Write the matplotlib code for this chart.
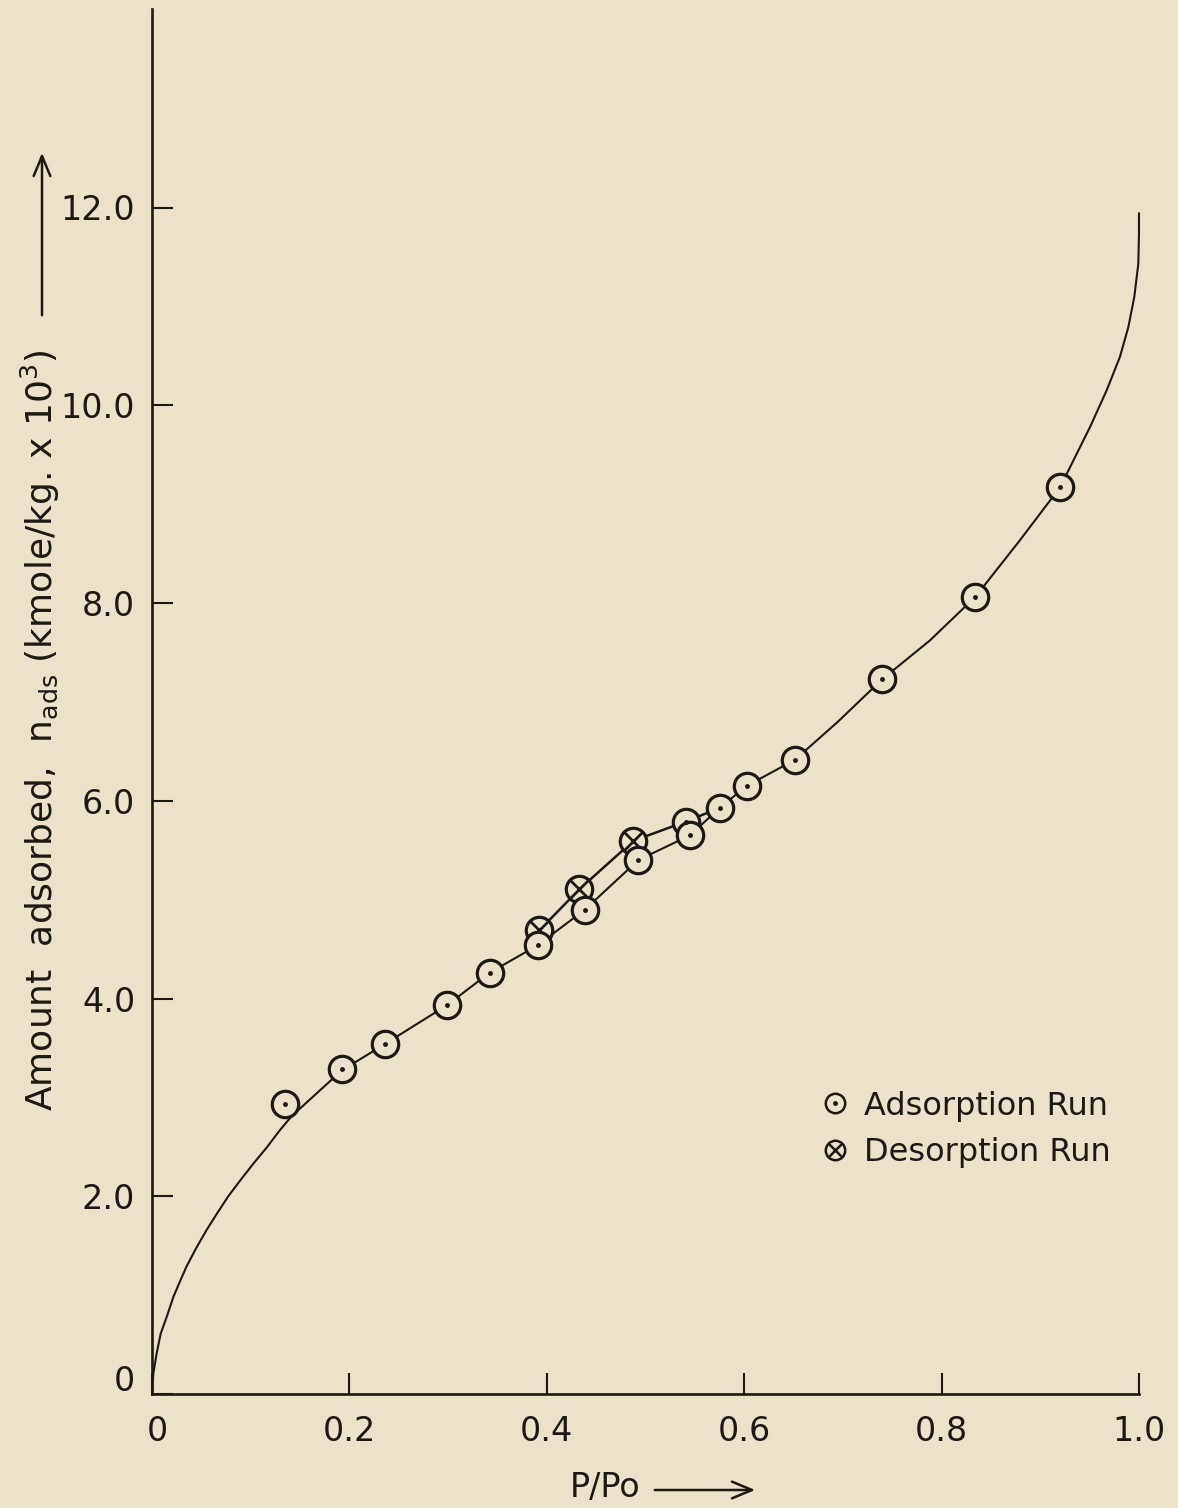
import numpy as np
import matplotlib
matplotlib.use("Agg")
import matplotlib.pyplot as plt
from matplotlib.lines import Line2D
from matplotlib.transforms import ScaledTranslation

# smooth isotherm drawn through the points
curve_x = [0.0, 0.0014, 0.0047, 0.0088, 0.0149, 0.0216, 0.0284, 0.035, 0.045, 0.0554,
           0.0655, 0.0773, 0.089, 0.1027, 0.116, 0.1297, 0.1415, 0.192, 0.236, 0.2985,
           0.342, 0.391, 0.4387, 0.4927, 0.545, 0.5755, 0.6025, 0.6515, 0.695, 0.740,
           0.788, 0.834, 0.879, 0.920, 0.9504, 0.9672, 0.9807, 0.9892, 0.9953, 0.9993,
           1.0, 1.0]
curve_y = [0.0, 0.21, 0.41, 0.61, 0.78, 0.98, 1.14, 1.29, 1.48, 1.66,
           1.82, 2.0, 2.155, 2.33, 2.49, 2.67, 2.81, 3.27, 3.54, 3.93,
           4.26, 4.54, 4.90, 5.40, 5.65, 5.93, 6.15, 6.415, 6.80, 7.23,
           7.62, 8.06, 8.63, 9.17, 9.78, 10.15, 10.49, 10.79, 11.10, 11.43,
           11.74, 11.94]

# upper (desorption) branch of the hysteresis loop
loop_x = [0.391, 0.3925, 0.433, 0.4877, 0.541, 0.5755]
loop_y = [4.54, 4.69, 5.105, 5.595, 5.79, 5.93]

ads_x = [0.135, 0.192, 0.236, 0.2985, 0.342, 0.391, 0.4387, 0.4927, 0.541, 0.545,
         0.5755, 0.6025, 0.6515, 0.740, 0.834, 0.920]
ads_y = [2.93, 3.285, 3.54, 3.93, 4.26, 4.54, 4.90, 5.40, 5.79, 5.65,
         5.93, 6.15, 6.415, 7.23, 8.06, 9.17]

des_x = [0.3925, 0.433, 0.4877]
des_y = [4.69, 5.105, 5.595]

x_ticks = [0, 0.2, 0.4, 0.6, 0.8, 1.0]
x_labels = ["0", "0.2", "0.4", "0.6", "0.8", "1.0"]
y_ticks = [0, 2, 4, 6, 8, 10, 12]
y_labels = ["0", "2.0", "4.0", "6.0", "8.0", "10.0", "12.0"]

BG = "#ece2ca"
INK = "#1c1915"
W, H = 1178, 1508

plt.rcParams["font.family"] = ["DejaVu Sans"]
plt.rcParams["mathtext.fontset"] = "dejavusans"
plt.rcParams["font.size"] = 24


def main():
    fig = plt.figure(figsize=(W / 100, H / 100), dpi=100, facecolor=BG)
    ax = fig.add_axes([152 / W, 1 - 1394 / H, (1139 - 152) / W, (1394 - 9) / H])
    ax.set_facecolor(BG)

    ax.plot(curve_x, curve_y, color=INK, lw=1.5, zorder=2, clip_on=False,
            solid_joinstyle="round")
    ax.plot(loop_x, loop_y, color=INK, lw=1.8, zorder=2)

    # desorption first, adsorption circles sit on top of them
    ax.plot(des_x, des_y, ls="none", marker="o", ms=19, mfc=BG, mec=INK, mew=2.3, zorder=3)
    ax.plot(des_x, des_y, ls="none", marker="x", ms=13, mec=INK, mew=2.0, zorder=3)
    ax.plot(ads_x, ads_y, ls="none", marker="o", ms=19, mfc=BG, mec=INK, mew=2.3, zorder=4)
    ax.plot(ads_x, ads_y, ls="none", marker="o", ms=2.5, color=INK, zorder=5)

    ax.set_xlim(0, 1.0)
    ax.set_ylim(0, 1385 / 98.875)
    for s in ["top", "right"]:
        ax.spines[s].set_visible(False)
    for s in ["left", "bottom"]:
        ax.spines[s].set_linewidth(1.9)
        ax.spines[s].set_color(INK)

    ax.set_xticks(x_ticks)
    ax.set_xticklabels(x_labels)
    ax.set_yticks(y_ticks)
    ax.set_yticklabels(y_labels)
    ax.tick_params(axis="both", direction="in", length=15, width=1.5, color=INK, labelcolor=INK)
    ax.tick_params(axis="x", pad=15)
    ax.tick_params(axis="y", pad=12)

    # nudge the two zero labels like in the original
    lab = ax.get_yticklabels()[0]
    lab.set_transform(lab.get_transform() + ScaledTranslation(0, 16 / 100, fig.dpi_scale_trans))
    lab = ax.get_xticklabels()[0]
    lab.set_transform(lab.get_transform() + ScaledTranslation(5 / 100, 0, fig.dpi_scale_trans))

    # axis titles with their arrows
    fig.text(570 / W, 1 - 1488 / H, "P/Po", ha="left", va="center", color=INK)
    ax.annotate("", xy=(758 / W, 1 - 1490 / H), xytext=(652 / W, 1 - 1490 / H),
                xycoords="figure fraction", textcoords="figure fraction",
                arrowprops=dict(arrowstyle="->,head_length=0.6,head_width=0.25", lw=1.8, color=INK))
    fig.text(40 / W, 1 - 730 / H, r"Amount  adsorbed,  n$_{\rm ads}$ (kmole/kg. x 10$^3$)",
             rotation=90, ha="center", va="center", color=INK, fontsize=26)
    ax.annotate("", xy=(42 / W, 1 - 150 / H), xytext=(42 / W, 1 - 318 / H),
                xycoords="figure fraction", textcoords="figure fraction",
                arrowprops=dict(arrowstyle="->,head_length=0.6,head_width=0.25", lw=1.8, color=INK))

    h_ads = (Line2D([], [], ls="none", marker="o", ms=14, mfc=BG, mec=INK, mew=1.8),
             Line2D([], [], ls="none", marker="o", ms=2.5, color=INK))
    h_des = (Line2D([], [], ls="none", marker="o", ms=14, mfc=BG, mec=INK, mew=1.8),
             Line2D([], [], ls="none", marker="x", ms=10, mec=INK, mew=1.8))
    ax.legend([h_ads, h_des], ["Adsorption Run", "Desorption Run"], loc="center left",
              bbox_to_anchor=(806 / W, 1 - 1129.5 / H), bbox_transform=fig.transFigure,
              frameon=False, fontsize=23, handlelength=0.8, handletextpad=0.5,
              borderpad=0, labelspacing=0.5, labelcolor=INK)

    fig.savefig("out.png", dpi=100, facecolor=BG)


if __name__ == "__main__":
    main()
